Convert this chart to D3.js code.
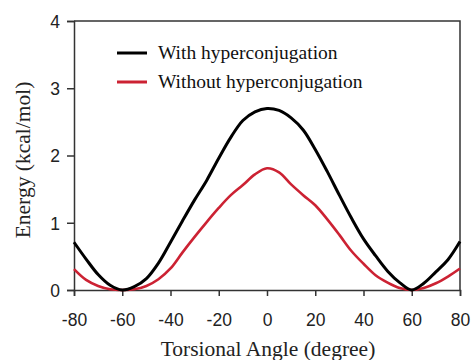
<!DOCTYPE html>
<html>
<head>
<meta charset="utf-8">
<script src="https://cdn.jsdelivr.net/npm/d3@7"></script>
<style>
  body { margin: 0; background: #fff; }
  .tick text { font-family: "Liberation Sans", Arial, sans-serif; font-size: 17.5px; fill: #222; }
  .axis-title { font-family: "Liberation Serif", "Times New Roman", serif; font-size: 21.5px; fill: #222; }
  .legend-text { font-family: "Liberation Serif", "Times New Roman", serif; font-size: 19.5px; fill: #111; }
</style>
</head>
<body>
<div id="chart"></div>
<script>
// data
var angles = [-80, -75, -70, -65, -60, -55, -50, -45, -40, -35, -30, -25, -20, -15, -10, -5,
  0, 5, 10, 15, 20, 25, 30, 35, 40, 45, 50, 55, 60, 65, 70, 75, 80];
var withHyper = [0.71, 0.46, 0.23, 0.07, 0, 0.05, 0.17, 0.40, 0.71, 1.03, 1.34, 1.63, 1.96, 2.27, 2.52, 2.65,
  2.70, 2.67, 2.56, 2.38, 2.09, 1.76, 1.41, 1.07, 0.76, 0.51, 0.28, 0.11, 0, 0.10, 0.27, 0.45, 0.72];
var withoutHyper = [0.31, 0.15, 0.06, 0.01, 0, 0.01, 0.06, 0.16, 0.32, 0.56, 0.79, 1.01, 1.22, 1.41, 1.56, 1.72,
  1.81, 1.75, 1.57, 1.41, 1.26, 1.05, 0.82, 0.58, 0.39, 0.22, 0.11, 0.03, 0, 0.03, 0.10, 0.20, 0.32];
var xTicks = [-80, -60, -40, -20, 0, 20, 40, 60, 80];
var yTicks = [0, 1, 2, 3, 4];
var seriesNames = ["With hyperconjugation", "Without hyperconjugation"];
var seriesColors = ["#000000", "#cc2233"];

var svgWidth = 472;
var svgHeight = 360;
var margin = { top: 21, right: 12, bottom: 70, left: 74 };
var width = 460 - margin.left;
var height = 290 - margin.top;

var svg = d3.select("#chart")
  .append("svg")
  .attr("width", svgWidth)
  .attr("height", svgHeight);

var chartGroup = svg.append("g")
  .attr("transform", `translate(${margin.left}, ${margin.top})`);

var xScale = d3.scaleLinear().domain([-80, 80]).range([0, width]);
var yScale = d3.scaleLinear().domain([0, 4]).range([height, 0]);

// frame (top + right)
chartGroup.append("path")
  .attr("d", `M0,0H${width}V${height}`)
  .attr("fill", "none")
  .attr("stroke", "#333")
  .attr("stroke-width", 1.5);

// axes - plain hyphen minus, integer labels
var fmt = d => String(d);
var bottomAxis = d3.axisBottom(xScale).tickValues(xTicks).tickFormat(fmt)
  .tickSizeOuter(0).tickSize(6).tickPadding(14);
var leftAxis = d3.axisLeft(yScale).tickValues(yTicks).tickFormat(fmt)
  .tickSizeOuter(0).tickSize(7).tickPadding(7);

var xAxis = chartGroup.append("g")
  .attr("transform", `translate(0, ${height})`)
  .call(bottomAxis);
var yAxis = chartGroup.append("g").call(leftAxis);

[xAxis, yAxis].forEach(function(ax) {
  ax.select(".domain").attr("stroke", "#333").attr("stroke-width", 1.5);
  ax.selectAll(".tick line").attr("stroke", "#333").attr("stroke-width", 1.5);
});
xAxis.selectAll(".tick text").attr("dy", "0.9em");
yAxis.selectAll(".tick text").attr("dy", "0.36em");

// curves
var curveLine = d3.line()
  .x((d, i) => xScale(angles[i]))
  .y(d => yScale(d))
  .curve(d3.curveCatmullRom.alpha(0.5));

chartGroup.append("path")
  .datum(withoutHyper)
  .attr("d", curveLine)
  .attr("fill", "none")
  .attr("stroke", seriesColors[1])
  .attr("stroke-width", 2.6)
  .attr("stroke-linejoin", "round");

chartGroup.append("path")
  .datum(withHyper)
  .attr("d", curveLine)
  .attr("fill", "none")
  .attr("stroke", seriesColors[0])
  .attr("stroke-width", 3)
  .attr("stroke-linejoin", "round");

// legend
var legend = svg.append("g");
seriesNames.forEach(function(name, i) {
  var y = 53 + i * 29;
  legend.append("line")
    .attr("x1", 117).attr("x2", 147)
    .attr("y1", y).attr("y2", y)
    .attr("stroke", seriesColors[i])
    .attr("stroke-width", 3);
  legend.append("text")
    .attr("class", "legend-text")
    .attr("x", 158)
    .attr("y", y)
    .attr("dy", "0.33em")
    .text(name);
});

// axis titles
svg.append("text")
  .attr("class", "axis-title")
  .attr("x", 268)
  .attr("y", 356)
  .attr("text-anchor", "middle")
  .text("Torsional Angle (degree)");

svg.append("text")
  .attr("class", "axis-title")
  .attr("transform", "translate(30, 160) rotate(-90)")
  .attr("text-anchor", "middle")
  .text("Energy (kcal/mol)");
</script>
</body>
</html>
